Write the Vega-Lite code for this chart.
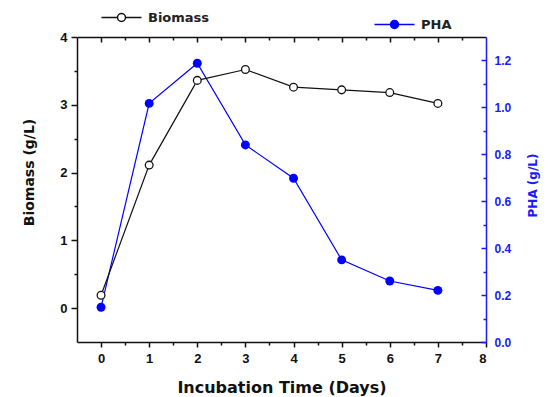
{
  "$schema": "https://vega.github.io/schema/vega-lite/v6.json",
  "width": 409,
  "height": 305,
  "autosize": "none",
  "padding": {"left": 77, "top": 37, "right": 71, "bottom": 55},
  "background": "white",
  "config": {
    "view": {"stroke": null},
    "font": "Liberation Sans",
    "axis": {"grid": false, "labelFont": "Liberation Sans", "titleFont": "DejaVu Sans", "labelFontWeight": "bold", "titleFontWeight": "bold"}
  },
  "datasets": {
    "biomass": [
      {"day": 0, "value": 0.19},
      {"day": 1, "value": 2.11},
      {"day": 2, "value": 3.36},
      {"day": 3, "value": 3.52},
      {"day": 4, "value": 3.26},
      {"day": 5, "value": 3.22},
      {"day": 6, "value": 3.18},
      {"day": 7, "value": 3.02}
    ],
    "pha": [
      {"day": 0, "value": 0.148},
      {"day": 1, "value": 1.017},
      {"day": 2, "value": 1.188},
      {"day": 3, "value": 0.84},
      {"day": 4, "value": 0.698},
      {"day": 5, "value": 0.35},
      {"day": 6, "value": 0.26},
      {"day": 7, "value": 0.22}
    ]
  },
  "layer": [
    {
      "data": {"name": "pha"},
      "mark": {"type": "line", "strokeWidth": 1.2},
      "encoding": {
        "x": {"field": "day", "type": "quantitative", "scale": {"domain": [-0.5, 8], "nice": false, "zero": false},
          "axis": {"orient": "top", "values": [0, 1, 2, 3, 4, 5, 6, 7], "labels": false, "title": null, "tickSize": -5, "tickColor": "#111", "domainColor": "#111", "domainWidth": 1.5, "tickWidth": 1.5}},
        "y": {"field": "value", "type": "quantitative", "scale": {"domain": [0, 1.3], "nice": false, "zero": false},
          "axis": {"orient": "right", "values": [0, 0.2, 0.4, 0.6, 0.8, 1.0, 1.2], "format": ".1f", "tickSize": -5, "labelPadding": 13, "labelFontSize": 12, "labelColor": "#1a1aff", "tickColor": "#1a1aff", "domainColor": "#1a1aff", "domainWidth": 1.5, "tickWidth": 1.5, "title": "PHA (g/L)", "titleColor": "#1a1aff", "titleFontSize": 12, "titleAngle": 270, "titlePadding": 29, "titleY": 148}},
        "color": {"datum": "PHA", "scale": {"range": ["#0000ff"]},
          "legend": {"orient": "none", "legendX": 311, "legendY": -19, "title": null, "padding": 0, "symbolSize": 64, "symbolType": "M-5,0H-1M1,0H5M1,0A1,1,0,1,1,-1,0A1,1,0,1,1,1,0Z", "symbolStrokeWidth": 1.5, "labelOffset": 20, "labelFont": "DejaVu Sans", "labelFontWeight": "bold", "labelFontSize": 13, "labelColor": "#222",
            "encode": {"symbols": {"update": {"fill": {"value": "#0000ff"}, "stroke": {"value": "#0000ff"}, "strokeWidth": {"value": 1.5}}}}}}
      }
    },
    {
      "data": {"name": "pha"},
      "mark": {"type": "point", "shape": "circle", "filled": true, "color": "#0000ff", "size": 80, "opacity": 1},
      "encoding": {
        "x": {"field": "day", "type": "quantitative", "scale": {"domain": [-0.5, 8], "nice": false, "zero": false}, "axis": null},
        "y": {"field": "value", "type": "quantitative", "scale": {"domain": [0, 1.3], "nice": false, "zero": false}, "axis": null}
      }
    },
    {
      "data": {"name": "biomass"},
      "mark": {"type": "line", "strokeWidth": 1.2},
      "encoding": {
        "x": {"field": "day", "type": "quantitative", "scale": {"domain": [-0.5, 8], "nice": false, "zero": false},
          "axis": {"orient": "bottom", "values": [0, 1, 2, 3, 4, 5, 6, 7, 8], "tickSize": 5, "labelPadding": 5, "labelFontSize": 13, "labelColor": "#111", "tickColor": "#111", "domainColor": "#111", "domainWidth": 1.5, "tickWidth": 1.5, "title": "Incubation Time (Days)", "titleFontSize": 16, "titleColor": "#111", "titlePadding": 14}},
        "y": {"field": "value", "type": "quantitative", "scale": {"domain": [-0.5, 4], "nice": false, "zero": false},
          "axis": {"orient": "left", "values": [0, 1, 2, 3, 4], "tickSize": 6, "labelPadding": 4, "labelFontSize": 13, "labelColor": "#111", "tickColor": "#111", "domainColor": "#111", "domainWidth": 1.5, "tickWidth": 1.5, "title": "Biomass (g/L)", "titleFontSize": 14, "titleColor": "#111", "titlePadding": 23, "titleY": 135}},
        "color": {"datum": "Biomass", "scale": {"range": ["#111111"]},
          "legend": {"orient": "none", "legendX": 38, "legendY": -26, "title": null, "padding": 0, "symbolSize": 64, "symbolType": "M-5,0H-1M1,0H5M1,0A1,1,0,1,1,-1,0A1,1,0,1,1,1,0Z", "symbolStrokeWidth": 1.5, "labelOffset": 20, "labelFont": "DejaVu Sans", "labelFontWeight": "bold", "labelFontSize": 13, "labelColor": "#222",
            "encode": {"symbols": {"update": {"fill": {"value": "white"}, "stroke": {"value": "#111"}, "strokeWidth": {"value": 1.5}}}}}}
      }
    },
    {
      "data": {"name": "biomass"},
      "mark": {"type": "point", "shape": "circle", "filled": true, "fill": "white", "stroke": "#111", "strokeWidth": 1.3, "size": 60, "opacity": 1},
      "encoding": {
        "x": {"field": "day", "type": "quantitative", "scale": {"domain": [-0.5, 8], "nice": false, "zero": false}, "axis": null},
        "y": {"field": "value", "type": "quantitative", "scale": {"domain": [-0.5, 4], "nice": false, "zero": false}, "axis": null}
      }
    },
    {
      "data": {"name": "biomass"},
      "mark": {"type": "point", "opacity": 0},
      "encoding": {
        "x": {"field": "day", "type": "quantitative", "scale": {"domain": [-0.5, 8], "nice": false, "zero": false},
          "axis": {"orient": "bottom", "values": [0.5, 1.5, 2.5, 3.5, 4.5, 5.5, 6.5, 7.5], "labels": false, "domain": false, "title": null, "tickSize": 3, "tickColor": "#111", "tickWidth": 1.5}},
        "y": {"field": "value", "type": "quantitative", "scale": {"domain": [-0.5, 4], "nice": false, "zero": false},
          "axis": {"orient": "left", "values": [0.5, 1.5, 2.5, 3.5], "labels": false, "domain": false, "title": null, "tickSize": 3, "tickColor": "#111", "tickWidth": 1.5}}
      }
    },
    {
      "data": {"name": "pha"},
      "mark": {"type": "point", "opacity": 0},
      "encoding": {
        "x": {"field": "day", "type": "quantitative", "scale": {"domain": [-0.5, 8], "nice": false, "zero": false},
          "axis": {"orient": "top", "values": [0.5, 1.5, 2.5, 3.5, 4.5, 5.5, 6.5, 7.5], "labels": false, "domain": false, "title": null, "tickSize": -3, "tickColor": "#111", "tickWidth": 1.5}},
        "y": {"field": "value", "type": "quantitative", "scale": {"domain": [0, 1.3], "nice": false, "zero": false},
          "axis": {"orient": "right", "values": [0.1, 0.3, 0.5, 0.7, 0.9, 1.1], "labels": false, "domain": false, "title": null, "tickSize": -3, "tickColor": "#1a1aff", "tickWidth": 1.5}}
      }
    }
  ],
  "resolve": {
    "scale": {"x": "independent", "y": "independent", "color": "independent"},
    "axis": {"x": "independent", "y": "independent"},
    "legend": {"color": "independent"}
  }
}
